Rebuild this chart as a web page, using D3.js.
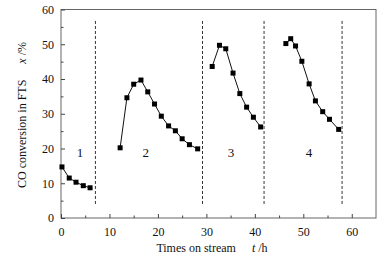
<!DOCTYPE html>
<html><head><meta charset="utf-8">
<script src="https://cdn.jsdelivr.net/npm/d3@7/dist/d3.min.js"></script>
<style>body{margin:0;background:#fff}svg{display:block}text{font-family:"Liberation Serif","Times New Roman",serif;fill:#111}</style>
</head><body><svg id="c" width="392" height="257"></svg>
<script>
const seg1T = [0.2, 1.7, 3.1, 4.6, 6.0];
const seg1V = [14.7, 11.5, 10.3, 9.3, 8.7];
const seg2T = [12.2, 13.6, 15.0, 16.5, 17.9, 19.3, 20.7, 22.2, 23.6, 25.0, 26.5, 28.2];
const seg2V = [20.2, 34.6, 38.5, 39.7, 36.3, 32.8, 29.3, 26.5, 25.1, 22.8, 21.1, 19.9];
const seg3T = [31.2, 32.7, 34.0, 35.5, 36.9, 38.3, 39.7, 41.2];
const seg3V = [43.6, 49.7, 48.7, 41.7, 35.8, 31.9, 29.0, 26.2];
const seg4T = [46.4, 47.4, 48.4, 49.7, 51.2, 52.5, 54.0, 55.4, 57.3];
const seg4V = [50.2, 51.6, 49.5, 45.1, 38.6, 33.7, 30.6, 28.4, 25.5];
const dividers = [7.1, 29.2, 41.9, 58.0];
const segLabels = ["1", "2", "3", "4"];
const segLabelT = [3.9, 17.5, 35.1, 51.2];
const xTicks = [0, 10, 20, 30, 40, 50, 60];
const yTicks = [0, 10, 20, 30, 40, 50, 60];

const svg = d3.select("#c");
const L = 61, R = 376, T = 9.5, B = 218;
const x = d3.scaleLinear().domain([0, 65]).range([L, R]);
const y = d3.scaleLinear().domain([0, 60]).range([B, T]);

// frame
svg.append("rect").attr("x", L).attr("y", T).attr("width", R - L).attr("height", B - T)
  .attr("fill", "none").attr("stroke", "#666").attr("stroke-width", 1);

// x axis ticks (inward)
const xa = svg.append("g").attr("transform", `translate(0,${B})`)
  .call(d3.axisBottom(x).tickValues(xTicks).tickSize(-4).tickPadding(9).tickFormat(d3.format("d")));
xa.select(".domain").remove();
xa.selectAll("line").attr("stroke", "#444");
xa.selectAll("text").attr("font-size", 12).attr("fill", "#111").attr("font-family", "Liberation Serif");
const xm = svg.append("g").attr("transform", `translate(0,${B})`)
  .call(d3.axisBottom(x).tickValues(d3.range(5, 65, 10)).tickSize(-2.5).tickFormat(""));
xm.select(".domain").remove(); xm.selectAll("line").attr("stroke", "#444");

const ya = svg.append("g").attr("transform", `translate(${L},0)`)
  .call(d3.axisLeft(y).tickValues(yTicks).tickSize(-4).tickPadding(7).tickFormat(d3.format("d")));
ya.select(".domain").remove();
ya.selectAll("line").attr("stroke", "#444");
ya.selectAll("text").attr("font-size", 12).attr("fill", "#111").attr("font-family", "Liberation Serif");
const ym = svg.append("g").attr("transform", `translate(${L},0)`)
  .call(d3.axisLeft(y).tickValues(d3.range(5, 60, 10)).tickSize(-2.5).tickFormat(""));
ym.select(".domain").remove(); ym.selectAll("line").attr("stroke", "#444");

// dividers
svg.selectAll(".div").data(dividers).enter().append("line")
  .attr("x1", d => x(d)).attr("x2", d => x(d))
  .attr("y1", y(56.7)).attr("y2", y(3.6))
  .attr("stroke", "#333").attr("stroke-width", 1).attr("stroke-dasharray", "3,2");

// series
const segs = [[seg1T, seg1V], [seg2T, seg2V], [seg3T, seg3V], [seg4T, seg4V]];
const line = d3.line().x(d => x(d[0])).y(d => y(d[1]));
segs.forEach(([ts, vs]) => {
  const pts = ts.map((t, i) => [t, vs[i]]);
  svg.append("path").attr("d", line(pts)).attr("fill", "none").attr("stroke", "#111").attr("stroke-width", 1);
  svg.selectAll(null).data(pts).enter().append("rect")
    .attr("x", d => x(d[0]) - 2.5).attr("y", d => y(d[1]) - 2.5)
    .attr("width", 5).attr("height", 5).attr("fill", "#000");
});

// segment labels
svg.selectAll(".sl").data(segLabels).enter().append("text")
  .attr("x", (d, i) => x(segLabelT[i])).attr("y", y(18.6) + 4)
  .attr("text-anchor", "middle").attr("font-size", 13).text(d => d);

// axis titles
const xt = svg.append("text").attr("x", 212).attr("y", 252).attr("text-anchor", "middle").attr("font-size", 12);
xt.append("tspan").text("Times on stream");
xt.append("tspan").attr("dx", 16).attr("font-style", "italic").text("t");
xt.append("tspan").text(" /h");

const yt = svg.append("text").attr("transform", "translate(26,115) rotate(-90)").attr("text-anchor", "middle").attr("font-size", 12);
yt.append("tspan").text("CO conversion in FTS");
yt.append("tspan").attr("dx", 16).attr("font-style", "italic").text("x");
yt.append("tspan").text(" /%");
</script></body></html>
